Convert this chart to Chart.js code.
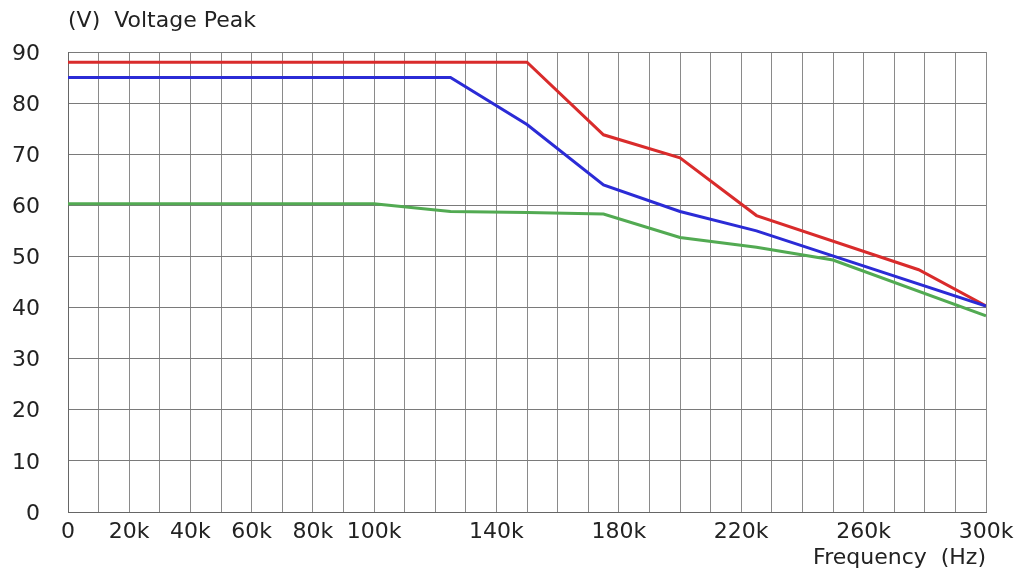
<!DOCTYPE html>
<html>
<head>
<meta charset="utf-8">
<title>Voltage Peak vs Frequency</title>
<script src="https://cdn.jsdelivr.net/npm/chart.js@4.4.1/dist/chart.umd.min.js"></script>
<style>
  html, body { margin: 0; padding: 0; background: #fff; }
  #wrap { position: relative; width: 1022px; height: 576px; }
</style>
</head>
<body>
<div id="wrap"><canvas id="chart-voltage"></canvas></div>
<script>
'use strict';

// ── Data (frequency in Hz, voltage in V) ──
const freqBlue  = [0, 125000, 150000, 175000, 200000, 225000, 300000];
const voltBlue  = [85, 85, 75.8, 64.0, 58.8, 55.0, 40.3];

const freqRed   = [0, 150000, 175000, 200000, 225000, 278000, 300000];
const voltRed   = [88, 88, 73.8, 69.3, 58.0, 47.4, 40.3];

const freqGreen = [0, 100000, 125000, 150000, 175000, 200000, 225000, 250000, 300000];
const voltGreen = [60.3, 60.3, 58.8, 58.6, 58.3, 53.7, 51.8, 49.3, 38.4];

// Only these x ticks get a label; the rest keep their grid line
const xTickLabels = [0, 20000, 40000, 60000, 80000, 100000, 140000, 180000, 220000, 260000, 300000];

const FONT = { family: "'DejaVu Sans', Verdana, sans-serif", size: 22 };
const TEXT = '#222';

const toPoints = (xs, ys) => xs.map((x, i) => ({ x, y: ys[i] }));

// Axis caption above the y axis, left-aligned with the plot
const yCaption = {
  id: 'yCaption',
  afterDraw(chart) {
    const { ctx, chartArea } = chart;
    ctx.save();
    ctx.font = `${FONT.size}px ${FONT.family}`;
    ctx.fillStyle = TEXT;
    ctx.textAlign = 'left';
    ctx.textBaseline = 'alphabetic';
    ctx.fillText('(V)  Voltage Peak', chartArea.left, 27);
    ctx.restore();
  }
};

const line = (data, color) => ({
  data,
  borderColor: color,
  borderWidth: 3,
  pointRadius: 0,
  tension: 0,
  fill: false
});

new Chart(document.getElementById('chart-voltage'), {
  type: 'line',
  data: {
    datasets: [
      line(toPoints(freqBlue, voltBlue), '#2b2bd6'),
      line(toPoints(freqRed, voltRed), '#d92b2b'),
      line(toPoints(freqGreen, voltGreen), '#52aa52')
    ]
  },
  options: {
    responsive: true,
    maintainAspectRatio: false,
    animation: false,
    layout: { padding: { left: 0, right: 36, top: 52, bottom: 0 } },
    plugins: {
      legend: { display: false },
      tooltip: { enabled: false },
      title: { display: false }
    },
    scales: {
      x: {
        type: 'linear',
        min: 0,
        max: 300000,
        afterFit: s => { s.height = 64; },
        ticks: {
          stepSize: 10000,
          autoSkip: false,
          maxRotation: 0,
          padding: 7,
          color: TEXT,
          font: FONT,
          callback: v => xTickLabels.includes(v) ? (v === 0 ? '0' : `${v / 1000}k`) : ''
        },
        grid: { color: '#8a8a8a', drawTicks: false },
        border: { color: '#666' },
        title: {
          display: true,
          text: 'Frequency  (Hz)',
          align: 'end',
          color: TEXT,
          font: FONT,
          padding: { top: 0, bottom: 5 }
        }
      },
      y: {
        min: 0,
        max: 90,
        afterFit: s => { s.width = 68; },
        ticks: {
          stepSize: 10,
          padding: 28,
          labelOffset: 2,
          color: TEXT,
          font: FONT
        },
        grid: { color: '#7a7a7a', drawTicks: false },
        border: { color: '#666' }
      }
    }
  },
  plugins: [yCaption]
});
</script>
</body>
</html>
